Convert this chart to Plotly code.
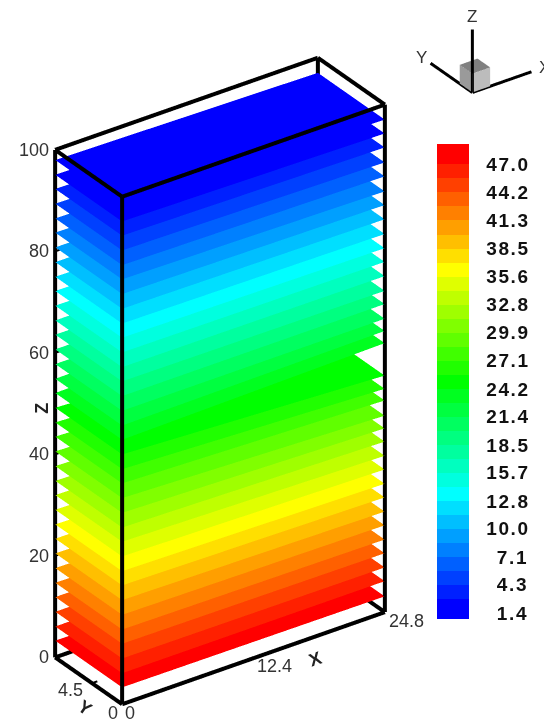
import plotly.graph_objects as go

# ---- data ----
x_range = [0, 24.8]
y_range = [0, 10.0]
z_range = [0, 100]
x_ticks = [0, 12.4, 24.8]
y_ticks = [0, 4.5]
z_ticks = [0, 20, 40, 60, 80, 100]
# height of every contour layer at the x=0 side and at the x=24.8 side
plane_z_left = [98.0, 95.1, 92.3, 89.4, 86.5, 83.7, 80.8, 77.9, 75.0, 72.2, 69.3, 66.4, 63.6, 60.7, 57.8, 54.9, 52.1,
                49.2, 46.3, 43.5, 40.6, 37.7, 34.8, 32.0, 29.1, 26.2, 23.4, 20.5, 17.6, 14.7, 11.9, 9.0, 6.1, 3.3]
plane_z_right = [97.05, 94.3, 91.55, 88.6, 85.85, 82.9, 80.2, 77.4, 74.5, 71.7, 69.0, 66.2, 63.3, 60.7, 57.8, 55.4, 53.0,
                 46.6, 44.0, 41.7, 38.7, 36.2, 33.6, 30.8, 28.1, 25.3, 22.6, 19.8, 17.1, 14.3, 11.6, 8.8, 6.1, 3.1]
plane_value = [1.4, 2.1, 3.5, 5.0, 6.4, 7.8, 9.2, 10.7, 12.1, 13.5, 15.0, 16.4, 17.8, 19.2, 20.7, 22.1, 23.5,
               24.9, 26.4, 27.8, 29.2, 30.7, 32.1, 33.5, 34.9, 36.4, 37.8, 39.2, 40.7, 42.1, 43.5, 44.9, 46.4, 48.0]
level_values = [47.0, 44.2, 41.3, 38.5, 35.6, 32.8, 29.9, 27.1, 24.2, 21.4, 18.5, 15.7, 12.8, 10.0, 7.1, 4.3, 1.4]
band_colors = ["#0000ff", "#0020ff", "#0040ff", "#0060ff", "#0080ff", "#009fff", "#00bfff", "#00dfff", "#00ffff",
               "#00ffdf", "#00ffbf", "#00ff9f", "#00ff80", "#00ff60", "#00ff40", "#00ff20", "#00ff00",
               "#20ff00", "#40ff00", "#60ff00", "#80ff00", "#9fff00", "#bfff00", "#dfff00", "#ffff00",
               "#ffdf00", "#ffbf00", "#ff9f00", "#ff8000", "#ff6000", "#ff4000", "#ff2000", "#ff0000"]
band_edges = [0.8, 2.825] + [2.825 + 1.4258 * k for k in range(1, 32)] + [49.1]

# view of the box, same camera for main box and axis triad
eye_dir = dict(x=-0.502, y=-0.709, z=0.495)
EYE_MAIN = 3.0
EYE_TRIAD = 3.0

cmin, cmax = band_edges[0], band_edges[-1]
cscale = []
for i, c in enumerate(band_colors):
    cscale.append([(band_edges[i] - cmin) / (cmax - cmin), c])
    cscale.append([(band_edges[i + 1] - cmin) / (cmax - cmin), c])

xs, ys, zs, I, J, K, inten = [], [], [], [], [], [], []
for zl, zr, pv in zip(plane_z_left, plane_z_right, plane_value):
    b = len(xs)
    xs += [x_range[0], x_range[1], x_range[1], x_range[0]]
    ys += [y_range[0], y_range[0], y_range[1], y_range[1]]
    zs += [zl, zr, zr, zl]
    I += [b, b]
    J += [b + 1, b + 2]
    K += [b + 2, b + 3]
    inten += [pv, pv]

fig = go.Figure()
fig.add_trace(go.Mesh3d(
    x=xs, y=ys, z=zs, i=I, j=J, k=K, intensity=inten, intensitymode="cell",
    colorscale=cscale, cmin=cmin, cmax=cmax, flatshading=True, hoverinfo="skip",
    lighting=dict(ambient=1, diffuse=0, specular=0, roughness=1, fresnel=0),
    colorbar=dict(
        x=437 / 544, xanchor="left", y=1 - 144 / 722, yanchor="top",
        thickness=32, thicknessmode="pixels", len=475, lenmode="pixels",
        outlinewidth=0, ticks="outside", ticklen=14, tickcolor="rgba(0,0,0,0)", tickmode="array",
        tickvals=level_values,
        ticktext=[("\u2007" if v < 10 else "") + "\u200a".join(f"{v:.1f}") for v in level_values],
        tickfont=dict(family="Liberation Sans", size=19, color="#111", weight=700),
        ypad=0, xpad=0, ticklabelposition="outside",
    ),
))

# wire box
x0, x1 = x_range
y0, y1 = y_range
z0, z1 = z_range
edges_x, edges_y, edges_z = [], [], []
for a, b in [((x0, y0, z0), (x1, y0, z0)), ((x1, y0, z0), (x1, y1, z0)), ((x1, y1, z0), (x0, y1, z0)), ((x0, y1, z0), (x0, y0, z0)),
             ((x0, y0, z1), (x1, y0, z1)), ((x1, y0, z1), (x1, y1, z1)), ((x1, y1, z1), (x0, y1, z1)), ((x0, y1, z1), (x0, y0, z1)),
             ((x0, y0, z0), (x0, y0, z1)), ((x1, y0, z0), (x1, y0, z1)), ((x1, y1, z0), (x1, y1, z1)), ((x0, y1, z0), (x0, y1, z1))]:
    edges_x += [a[0], b[0], None]
    edges_y += [a[1], b[1], None]
    edges_z += [a[2], b[2], None]
fig.add_trace(go.Scatter3d(x=edges_x, y=edges_y, z=edges_z, mode="lines",
                           line=dict(color="black", width=8), hoverinfo="skip", showlegend=False))

# tick marks
tx, ty, tz = [], [], []
for v in x_ticks:
    tx += [v, v, None]; ty += [y0, y0 + 0.25, None]; tz += [z0, z0, None]
for v in y_ticks:
    tx += [x0, x0 + 0.5, None]; ty += [v, v, None]; tz += [z0, z0, None]
for v in z_ticks:
    tx += [x0, x0 + 0.5, None]; ty += [y1, y1, None]; tz += [v, v, None]
fig.add_trace(go.Scatter3d(x=tx, y=ty, z=tz, mode="lines", line=dict(color="black", width=4),
                           hoverinfo="skip", showlegend=False))

# axis triad
cube = 0.3
cx = [0, cube, cube, 0, 0, cube, cube, 0]
cy = [0, 0, cube, cube, 0, 0, cube, cube]
cz = [0, 0, 0, 0, cube, cube, cube, cube]
fig.add_trace(go.Mesh3d(
    x=cx, y=cy, z=cz, scene="scene2",
    i=[4, 4, 0, 0, 0, 0], j=[5, 6, 1, 5, 3, 7], k=[6, 7, 5, 4, 7, 4],
    facecolor=["#808080", "#808080", "#bcbcbc", "#bcbcbc", "#9a9a9a", "#9a9a9a"],
    flatshading=True, hoverinfo="skip", showscale=False,
    lighting=dict(ambient=1, diffuse=0, specular=0, roughness=1, fresnel=0),
))
fig.add_trace(go.Scatter3d(
    x=[0, 1, None, 0, 0, None, 0, 0], y=[0, 0, None, 0, 1, None, 0, 0], z=[0, 0, None, 0, 0, None, 0, 1],
    mode="lines", line=dict(color="black", width=6), hoverinfo="skip", showlegend=False, scene="scene2"))

TICK = dict(family="Liberation Sans", size=18, color="#333")
AX = dict(family="Liberation Sans", size=18, color="#222", weight=700)


def ann(x, y, z, text, font, dx=0, dy=0, angle=0, xa="center"):
    return dict(x=x, y=y, z=z, text=text, showarrow=False, font=font, xshift=dx, yshift=dy,
                textangle=angle, xanchor=xa, yanchor="middle")


main_ann = [ann(x0, y1, v, str(v), TICK, dx=-4, xa="right") for v in z_ticks]
main_ann += [
    ann(x0, y1 * 0.45, z0, "4.5", TICK, dx=-21, dy=-7),
    ann(x0, y0, z0, "0", TICK, dx=-9, dy=-9),
    ann(x0, y0, z0, "0", TICK, dx=8, dy=-9),
    ann(12.4, y0, z0, "12.4", TICK, dx=21, dy=-8),
    ann(x1, y0, z0, "24.8", TICK, dx=22, dy=-9),
    ann(x0, y1, 49, "Z", AX, dx=-13, angle=-90),
    ann(15.5, y0, z0, "X", AX, dx=29, dy=-12, angle=-19),
    ann(x0, y1 * 0.25, z0, "Y", AX, dx=-20, dy=-15, angle=35),
]
triad_font = dict(family="Liberation Sans", size=17, color="#333")
triad_ann = [
    ann(1, 0, 0, "X", triad_font, dx=13, dy=4),
    ann(0, 1, 0, "Y", triad_font, dx=-9, dy=6),
    ann(0, 0, 1, "Z", triad_font, dy=13),
]


def hidden_axis(rng):
    return dict(range=rng, visible=False, showgrid=False, zeroline=False, showline=False,
                showticklabels=False, showbackground=False, title="", showspikes=False)


def camera(d):
    return dict(projection=dict(type="orthographic"), up=dict(x=0, y=0, z=1), center=dict(x=0, y=0, z=0),
                eye=dict(x=eye_dir["x"] * d, y=eye_dir["y"] * d, z=eye_dir["z"] * d))


fig.update_layout(
    width=544, height=722, margin=dict(l=0, r=0, t=0, b=0), paper_bgcolor="white", showlegend=False,
    hovermode=False,
    scene=dict(
        domain=dict(x=[0, 440 / 544], y=[0, 682 / 722]),
        xaxis=hidden_axis(x_range), yaxis=hidden_axis(y_range), zaxis=hidden_axis(z_range),
        aspectmode="manual", aspectratio=dict(x=0.944, y=0.34, z=1.713),
        camera=camera(EYE_MAIN), annotations=main_ann,
    ),
    scene2=dict(
        domain=dict(x=[421 / 544, 541 / 544], y=[1 - 110 / 722, 1]),
        xaxis=hidden_axis([0, 1]), yaxis=hidden_axis([0, 1]), zaxis=hidden_axis([-0.604, 1]),
        aspectmode="manual", aspectratio=dict(x=1.318, y=1.318, z=2.114),
        camera=camera(EYE_TRIAD), annotations=triad_ann,
    ),
)
fig.write_html("out.html", config=dict(displayModeBar=False),
               post_script="document.body.style.margin='0';")
